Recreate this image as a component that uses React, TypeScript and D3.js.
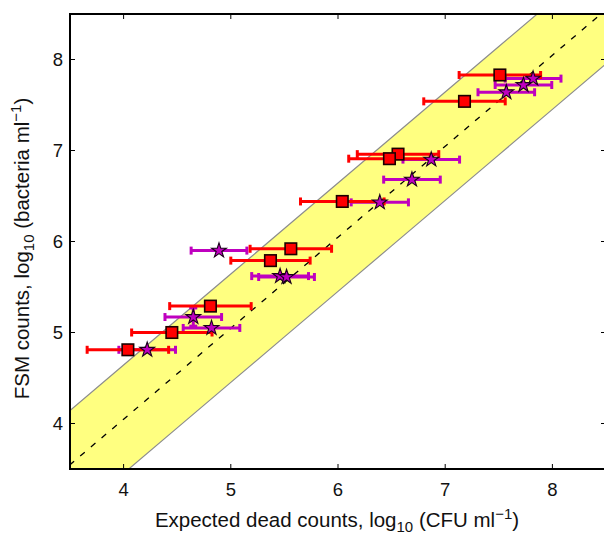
import React from "react";
import * as d3 from "d3";

// ---- data ----
const xTicks = [4, 5, 6, 7, 8];
const yTicks = [4, 5, 6, 7, 8];

// red squares
const redX = [7.51, 7.18, 6.56, 6.48, 6.04, 5.56, 5.37, 4.81, 4.45, 4.04];
const redY = [7.83, 7.54, 6.96, 6.91, 6.44, 5.92, 5.79, 5.29, 5.0, 4.81];
const redXErr = [0.38, 0.38, 0.38, 0.38, 0.39, 0.38, 0.37, 0.38, 0.375, 0.38];

// purple stars
const starX = [7.82, 7.73, 7.57, 6.87, 6.69, 6.39, 4.89, 5.46, 5.52, 4.65, 4.82, 4.22];
const starY = [7.79, 7.72, 7.64, 6.9, 6.68, 6.43, 5.9, 5.62, 5.61, 5.17, 5.05, 4.81];
const starXErr = [0.26, 0.264, 0.264, 0.264, 0.264, 0.267, 0.26, 0.265, 0.26, 0.264, 0.264, 0.264];
const starYErr = [0, 0, 0, 0, 0, 0, 0, 0, 0, 0.1, 0, 0];

// identity line and band
const lineOffset = 0.047;
const bandHalfWidth = 0.595;

const W = 604;
const H = 538;
const margin = { left: 70, top: 14, right: 606, bottom: 469 };
const xDomain: [number, number] = [3.5, 8.5];
const yDomain: [number, number] = [3.5, 8.5];

const RED = "#ff0000";
const PURPLE = "#bf00bf";
const FONT = "'Liberation Sans', Arial, Helvetica, sans-serif";

export default function App() {
  const x = d3.scaleLinear().domain(xDomain).range([margin.left, margin.right]);
  const y = d3.scaleLinear().domain(yDomain).range([margin.bottom, margin.top]);

  const xs = d3.range(xDomain[0] - 1, xDomain[1] + 1.01, 0.5);
  const lineGen = d3
    .line<number>()
    .x((v) => x(v))
    .y((v) => y(v + lineOffset));
  const upper = d3
    .line<number>()
    .x((v) => x(v))
    .y((v) => y(v + lineOffset + bandHalfWidth));
  const lower = d3
    .line<number>()
    .x((v) => x(v))
    .y((v) => y(v + lineOffset - bandHalfWidth));
  const band = d3
    .area<number>()
    .x((v) => x(v))
    .y0((v) => y(v + lineOffset - bandHalfWidth))
    .y1((v) => y(v + lineOffset + bandHalfWidth));

  const star = d3.symbol().type(d3.symbolStar).size(68)();
  const capH = 4;
  const sq = 11.5;

  const pw = margin.right - margin.left;
  const ph = margin.bottom - margin.top;

  return (
    <svg
      width={W}
      height={H}
      style={{ position: "absolute", left: 0, top: 0, background: "#fff" }}
      fontFamily={FONT}
    >
      <defs>
        <clipPath id="plotclip">
          <rect x={margin.left} y={margin.top} width={pw} height={ph} />
        </clipPath>
      </defs>
      <g clipPath="url(#plotclip)">
        <path d={band(xs) || ""} fill="#ffff80" stroke="none" />
        <path d={upper(xs) || ""} fill="none" stroke="#8c8c8c" strokeWidth={1.2} />
        <path d={lower(xs) || ""} fill="none" stroke="#8c8c8c" strokeWidth={1.2} />
        <path
          d={lineGen(xs) || ""}
          fill="none"
          stroke="#000"
          strokeWidth={1.3}
          strokeDasharray="6,8"
        />

        {/* purple error bars */}
        {starX.map((v, i) => {
          const cy = y(starY[i]);
          const x0 = x(v - starXErr[i]);
          const x1 = x(v + starXErr[i]);
          return (
            <g key={"pe" + i} stroke={PURPLE} strokeWidth={3} fill="none">
              <line x1={x0} x2={x1} y1={cy} y2={cy} />
              <line x1={x0} x2={x0} y1={cy - capH} y2={cy + capH} />
              <line x1={x1} x2={x1} y1={cy - capH} y2={cy + capH} />
              {starYErr[i] > 0 && (
                <g>
                  <line x1={x(v)} x2={x(v)} y1={y(starY[i] + starYErr[i])} y2={y(starY[i] - starYErr[i])} />
                  <line x1={x(v) - capH} x2={x(v) + capH} y1={y(starY[i] + starYErr[i])} y2={y(starY[i] + starYErr[i])} />
                  <line x1={x(v) - capH} x2={x(v) + capH} y1={y(starY[i] - starYErr[i])} y2={y(starY[i] - starYErr[i])} />
                </g>
              )}
            </g>
          );
        })}

        {/* red error bars */}
        {redX.map((v, i) => {
          const cy = y(redY[i]);
          const x0 = x(v - redXErr[i]);
          const x1 = x(v + redXErr[i]);
          return (
            <g key={"re" + i} stroke={RED} strokeWidth={3} fill="none">
              <line x1={x0} x2={x1} y1={cy} y2={cy} />
              <line x1={x0} x2={x0} y1={cy - capH} y2={cy + capH} />
              <line x1={x1} x2={x1} y1={cy - capH} y2={cy + capH} />
            </g>
          );
        })}

        {/* red squares */}
        {redX.map((v, i) => (
          <rect
            key={"rs" + i}
            x={x(v) - sq / 2}
            y={y(redY[i]) - sq / 2}
            width={sq}
            height={sq}
            fill={RED}
            stroke="#1a0000"
            strokeWidth={1.6}
          />
        ))}

        {/* purple stars */}
        {starX.map((v, i) => (
          <path
            key={"st" + i}
            d={star || ""}
            transform={`translate(${x(v)},${y(starY[i])})`}
            fill={PURPLE}
            stroke="#1a001a"
            strokeWidth={1.1}
          />
        ))}
      </g>

      {/* ticks */}
      <g stroke="#000" strokeWidth={1}>
        {xTicks.map((t) => (
          <g key={"xt" + t}>
            <line x1={x(t)} x2={x(t)} y1={margin.bottom} y2={margin.bottom - 5} />
            <line x1={x(t)} x2={x(t)} y1={margin.top} y2={margin.top + 5} />
          </g>
        ))}
        {yTicks.map((t) => (
          <g key={"yt" + t}>
            <line x1={margin.left} x2={margin.left + 5} y1={y(t)} y2={y(t)} />
            <line x1={margin.right} x2={margin.right - 5} y1={y(t)} y2={y(t)} />
          </g>
        ))}
      </g>

      {/* frame */}
      <rect
        x={margin.left}
        y={margin.top}
        width={pw}
        height={ph}
        fill="none"
        stroke="#000"
        strokeWidth={2}
      />

      {/* tick labels */}
      <g fontSize={18.5} fill="#111">
        {xTicks.map((t) => (
          <text key={"xl" + t} x={x(t)} y={margin.bottom + 27} textAnchor="middle">
            {t}
          </text>
        ))}
        {yTicks.map((t) => (
          <text key={"yl" + t} x={margin.left - 7} y={y(t)} dy="0.35em" textAnchor="end">
            {t}
          </text>
        ))}
      </g>

      {/* axis titles */}
      <text x={(margin.left + margin.right) / 2 - 1} y={527} textAnchor="middle" fontSize={20.5} fill="#111">
        Expected dead counts, log
        <tspan fontSize={15} dy={5}>10</tspan>
        <tspan dy={-5}> (CFU ml</tspan>
        <tspan fontSize={15} dy={-8}>−1</tspan>
        <tspan dy={8}>)</tspan>
      </text>
      <text
        transform={`translate(29,${(margin.top + margin.bottom) / 2 + 7}) rotate(-90)`}
        textAnchor="middle"
        fontSize={20.5}
        fill="#111"
      >
        FSM counts, log
        <tspan fontSize={15} dy={5}>10</tspan>
        <tspan dy={-5}> (bacteria ml</tspan>
        <tspan fontSize={15} dy={-8}>−1</tspan>
        <tspan dy={8}>)</tspan>
      </text>
    </svg>
  );
}
